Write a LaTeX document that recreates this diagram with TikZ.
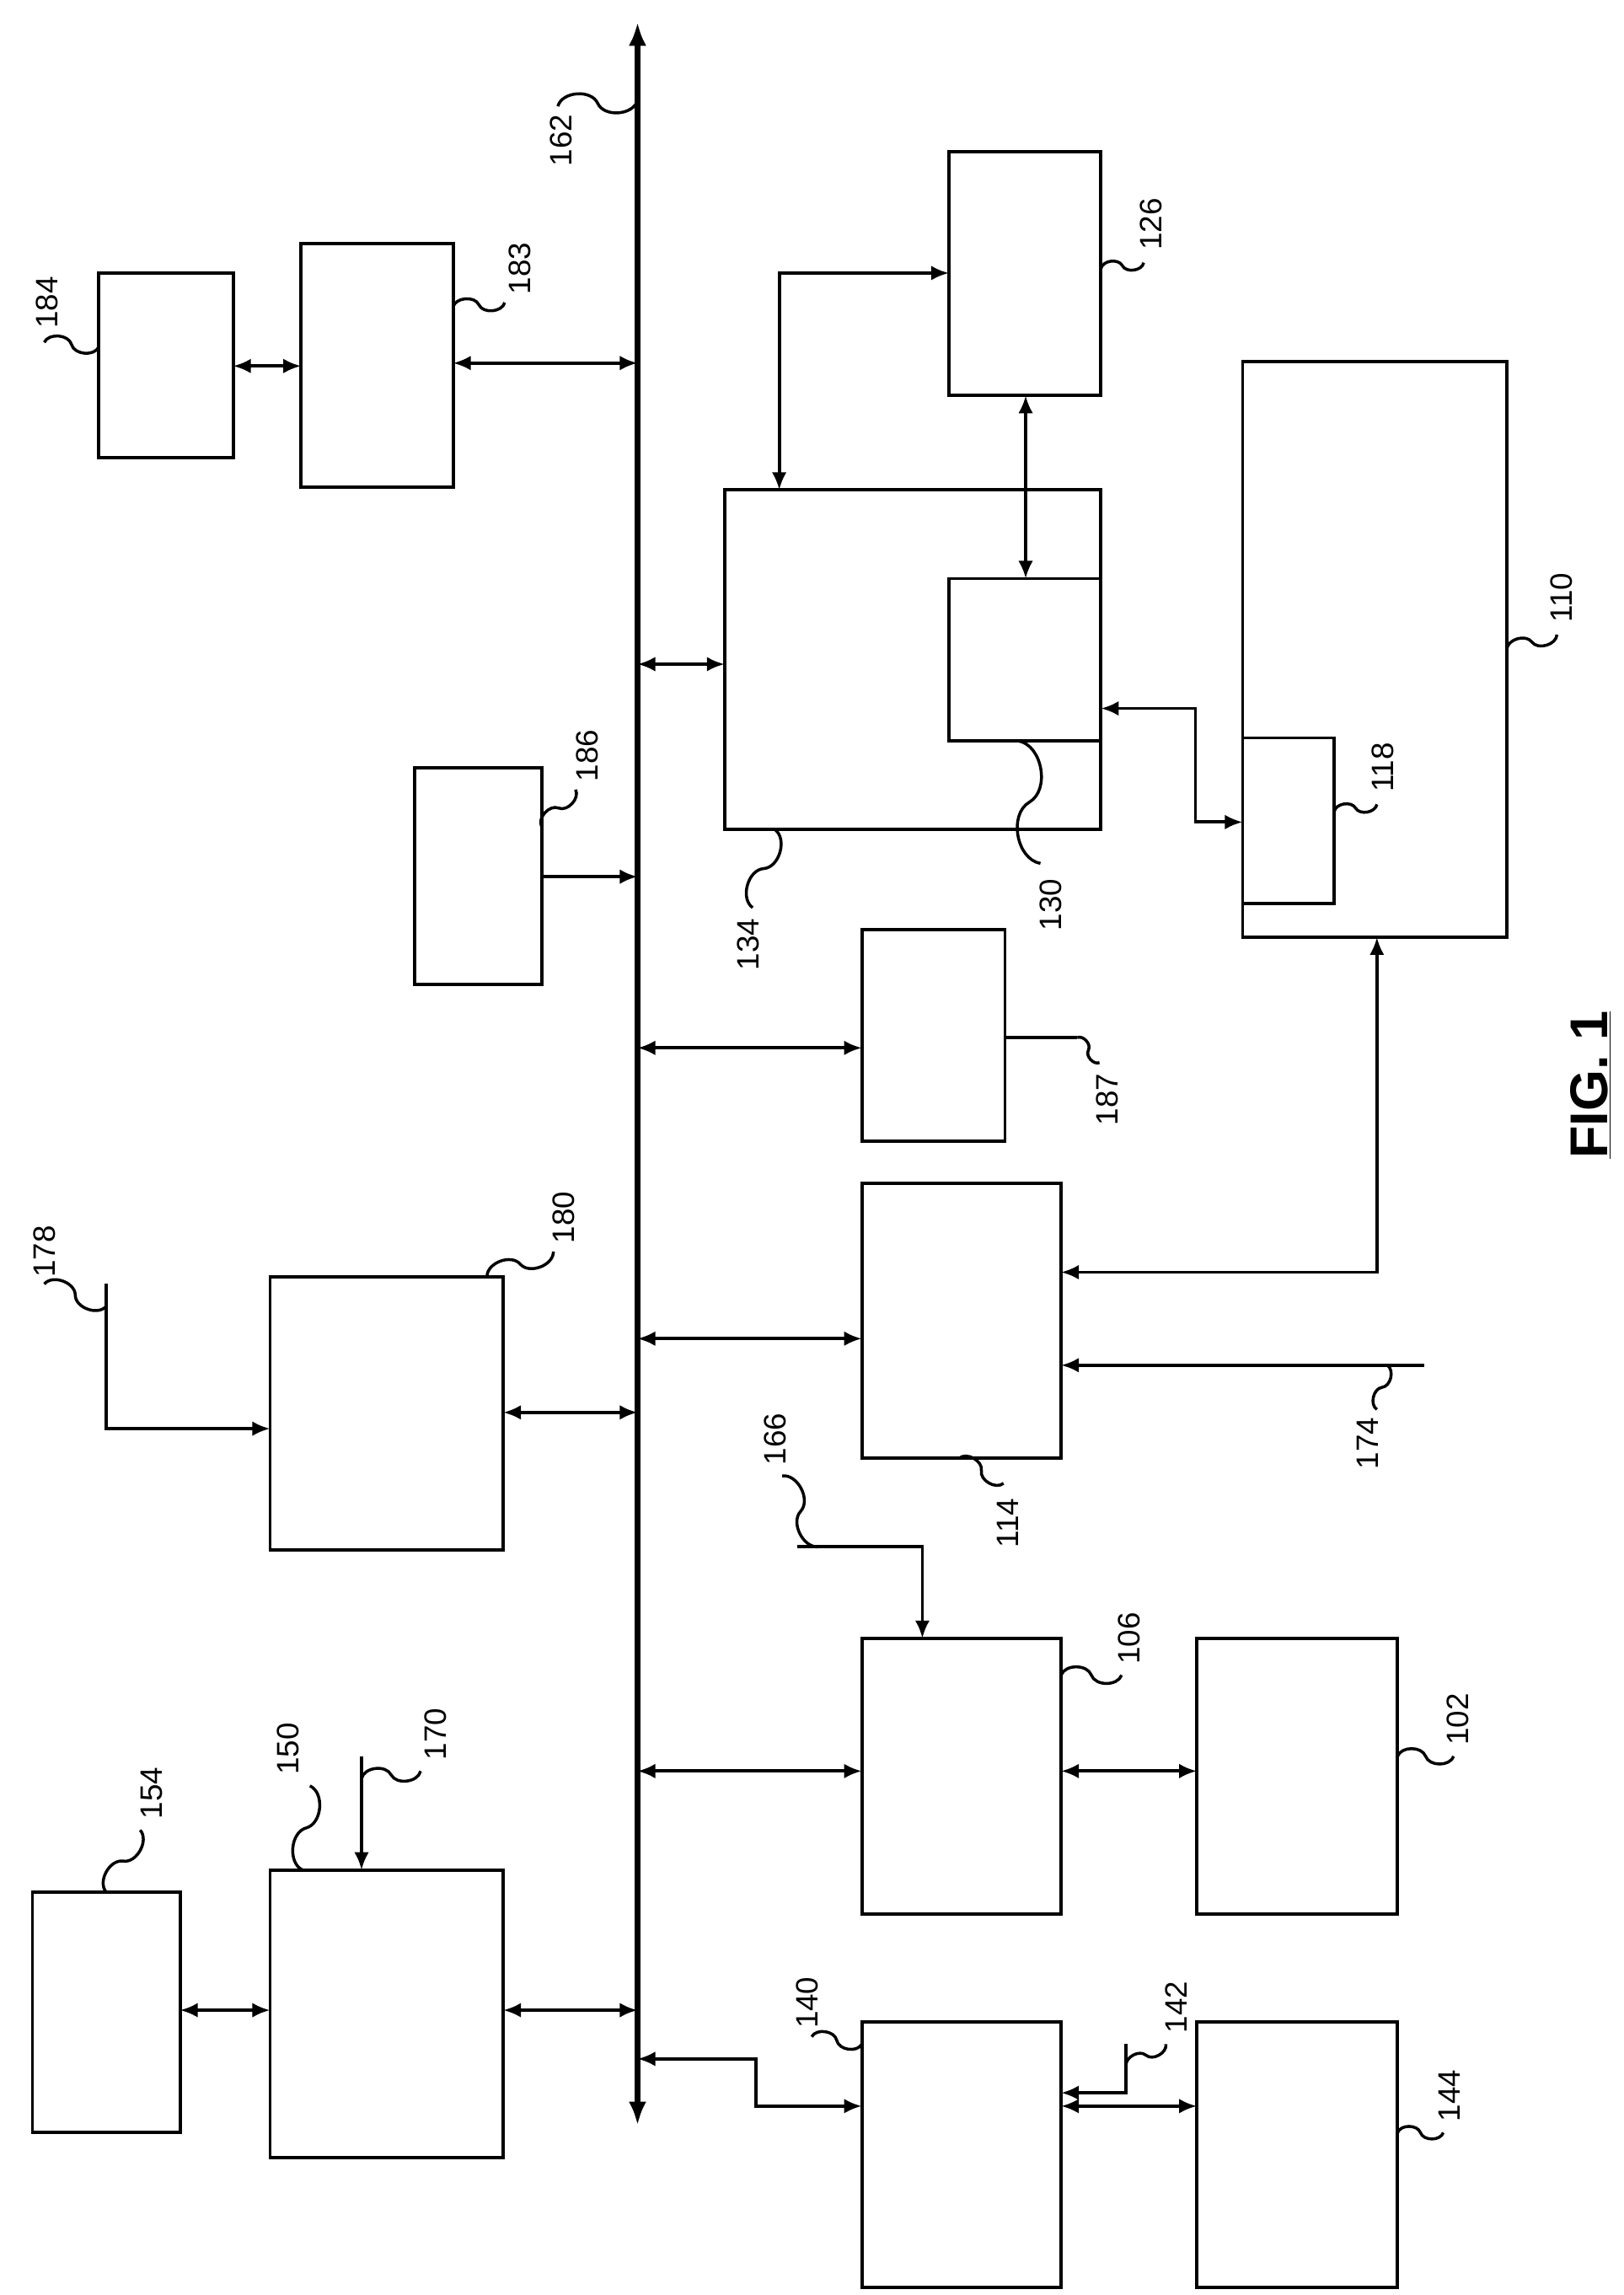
\documentclass[tikz,border=0pt]{standalone}
\usepackage{fontspec}
\setmainfont{Liberation Sans}
\usetikzlibrary{arrows.meta,fit,calc}
\begin{document}
\begin{tikzpicture}[x=1pt,y=-1pt,
  box/.style={draw,line width=2.2pt,inner sep=0pt,outer sep=0pt},
  con/.style={line width=2.2pt},
  ar/.style={con,-{Latex[length=12pt,width=10pt]}},
  dar/.style={con,{Latex[length=12pt,width=10pt]}-{Latex[length=12pt,width=10pt]}},
  lab/.style={rotate=90,font=\fontsize{21}{21}\selectfont,inner sep=1pt},
  ld/.style={line width=2pt}]
\useasboundingbox (0,0) rectangle (1100,1555);
\newcommand{\bx}[5]{\coordinate (#1-a) at (#2,#3); \coordinate (#1-b) at (#4,#5); \node[box,fit=(#1-a)(#1-b)] (#1) {};}
\newcommand{\lbl}[7]{\node[lab] (l#1) at (#2,#3) {#1}; \coordinate (s#1) at (#4,#5); \coordinate (e#1) at (#6,#7);
  \draw[ld] (s#1) to[bend left=70] ($(s#1)!.5!(e#1)$) to[bend right=70] (e#1);}
\bx{b184}{67}{185}{158}{310}
\bx{b183}{204}{165}{307}{330}
\bx{b186}{281}{520}{367}{667}
\bx{b180}{183}{865}{341}{1050}
\bx{b150}{183}{1267}{341}{1462}
\bx{b154}{22}{1282}{122}{1445}
\bx{b126}{643}{103}{746}{268}
\bx{b134}{491}{332}{746}{562}
\bx{b130}{643}{392}{746}{502}
\bx{b110}{842}{245}{1021}{635}
\bx{b118}{842}{500}{904}{612}
\bx{b187}{584}{630}{681}{773}
\bx{b114}{584}{802}{719}{988}
\bx{b106}{584}{1110}{719}{1297}
\bx{b102}{811}{1110}{947}{1297}
\bx{b140}{584}{1370}{719}{1550}
\bx{b144}{811}{1370}{947}{1550}
\coordinate (busT) at (432,15); \coordinate (busB) at (432,1440);
\draw[line width=4pt,{Latex[length=16pt,width=12pt]}-{Latex[length=16pt,width=12pt]}] (busT) -- (busB);
% connectors
\draw[dar] (b184.east|-0,248) -- (b183.west|-0,248);
\draw[dar] (b183.east|-0,246) -- (busT|-0,246);
\draw[ar] (b186.east|-0,594) -- (busT|-0,594);
\draw[dar] (b180.east|-0,957) -- (busT|-0,957);
\coordinate (p178) at (72,870);
\draw[ar] (p178) -- (72,968) -- (b180.west|-0,968);
\draw[dar] (b150.east|-0,1362) -- (busT|-0,1362);
\draw[dar] (b154.east|-0,1362) -- (b150.west|-0,1362);
\coordinate (p170) at (245,1190);
\draw[ar] (p170) -- (b150.north-|p170);
\draw[dar] (busT|-0,450) -- (b134.west|-0,450);
\draw[dar] (b134.north-|528,0) -- (528,185) -- (b126.west|-0,185);
\draw[dar] (b126.south-|695,0) -- (b130.north-|695,0);
\draw[dar] (b130.east|-0,480) -- (810,480) -- (810,557) -- (b118.west|-0,557);
\draw[dar] (busT|-0,710) -- (b187.west|-0,710);
\coordinate (p187) at (730,703);
\draw[con] (b187.east|-0,703) -- (p187);
\draw[dar] (busT|-0,907) -- (b114.west|-0,907);
\draw[dar] (b114.east|-0,862) -- (933,862) -- (b110.south-|933,0);
\coordinate (p174) at (965,925);
\draw[ar] (p174) -- (b114.east|-0,925);
\coordinate (p166) at (540,1048);
\draw[ar] (p166) -- (625,1048) -- (b106.north-|625,0);
\draw[dar] (busT|-0,1200) -- (b106.west|-0,1200);
\draw[dar] (b106.east|-0,1200) -- (b102.west|-0,1200);
\draw[dar] (busT|-0,1395) -- (512,1395) -- (512,1427) -- (b140.west|-0,1427);
\coordinate (p142) at (763,1385);
\draw[ar] (p142) -- (763,1418) -- (b140.east|-0,1418);
\draw[dar] (b140.east|-0,1427) -- (b144.west|-0,1427);
% labels
\lbl{162}{380}{95}{378}{72}{432}{68}
\lbl{184}{32}{205}{30}{232}{67}{235}
\lbl{183}{352}{182}{342}{205}{307}{208}
\lbl{186}{398}{512}{390}{535}{367}{560}
\lbl{178}{30}{848}{30}{870}{72}{885}
\lbl{180}{382}{825}{375}{848}{330}{865}
\lbl{150}{195}{1185}{210}{1210}{205}{1267}
\lbl{154}{103}{1215}{95}{1240}{72}{1282}
\lbl{170}{295}{1175}{285}{1200}{245}{1205}
\lbl{126}{780}{152}{775}{178}{746}{182}
\lbl{110}{1058}{405}{1055}{430}{1021}{440}
\lbl{118}{937}{520}{933}{545}{904}{550}
\lbl{134}{507}{640}{510}{615}{525}{562}
\lbl{130}{712}{613}{705}{585}{690}{502}
\lbl{187}{750}{745}{745}{720}{730}{703}
\lbl{114}{683}{1032}{680}{1005}{650}{988}
\lbl{174}{927}{978}{933}{955}{940}{925}
\lbl{166}{525}{975}{530}{1000}{555}{1048}
\lbl{106}{765}{1110}{760}{1135}{719}{1135}
\lbl{102}{988}{1165}{985}{1190}{947}{1190}
\lbl{140}{547}{1357}{550}{1380}{584}{1385}
\lbl{142}{797}{1360}{790}{1385}{763}{1400}
\lbl{144}{982}{1420}{978}{1445}{947}{1445}
\node[rotate=90,font=\fontsize{36}{36}\selectfont\bfseries] (fig) at (1078,735) {\underline{FIG. 1}};
\end{tikzpicture}
\end{document}
